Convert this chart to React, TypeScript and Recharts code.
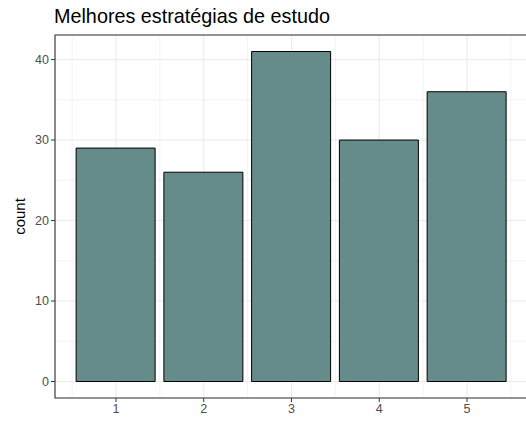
import {
  Bar,
  BarChart,
  CartesianGrid,
  ReferenceArea,
  XAxis,
  YAxis,
} from 'recharts';

const estrategias = [1, 2, 3, 4, 5];
const counts = [29, 26, 41, 30, 36];
const yTicks = [0, 10, 20, 30, 40];
const yMinor = [5, 15, 25, 35];
const xMinor = [0.5, 1.5, 2.5, 3.5, 4.5, 5.5];

const X_DOMAIN: [number, number] = [0.305, 5.695];
const Y_DOMAIN: [number, number] = [-2.05, 43.05];

const chartData = estrategias.map((e, i) => ({ estrategia: e, count: counts[i] }));

const tickStyle = { fontSize: 12.5, fill: '#4D4D4D', fontFamily: 'Liberation Sans, Arial, sans-serif' };

// minor grid lines: use the axis scale when given, else map the domain onto the plot area
const minorH = ({ yAxis, offset }: any) =>
  yMinor.map((v) =>
    yAxis && typeof yAxis.scale === 'function'
      ? yAxis.scale(v)
      : offset.top + ((Y_DOMAIN[1] - v) / (Y_DOMAIN[1] - Y_DOMAIN[0])) * offset.height,
  );
const minorV = ({ xAxis, offset }: any) =>
  xMinor.map((v) =>
    xAxis && typeof xAxis.scale === 'function'
      ? xAxis.scale(v)
      : offset.left + ((v - X_DOMAIN[0]) / (X_DOMAIN[1] - X_DOMAIN[0])) * offset.width,
  );

const App = () => {
  return (
    <div
      style={{
        position: 'absolute',
        left: 0,
        top: 0,
        width: 526,
        height: 421,
        overflow: 'hidden',
        background: '#fff',
        fontFamily: 'Liberation Sans, Arial, sans-serif',
      }}
    >
      <div
        style={{
          position: 'absolute',
          left: 54,
          top: 5,
          fontSize: 19.8,
          color: '#000',
          whiteSpace: 'nowrap',
        }}
      >
        Melhores estratégias de estudo
      </div>
      <BarChart
        width={540}
        height={421}
        data={chartData}
        margin={{ top: 35, right: 12, left: 0, bottom: 0 }}
      >
        <CartesianGrid
          stroke="#EBEBEB"
          strokeWidth={0.6}
          horizontalCoordinatesGenerator={minorH}
          verticalCoordinatesGenerator={minorV}
        />
        <CartesianGrid stroke="#EBEBEB" strokeWidth={1.1} />
        <XAxis
          dataKey="estrategia"
          type="number"
          domain={X_DOMAIN}
          ticks={estrategias}
          allowDataOverflow
          height={23}
          axisLine={false}
          tickLine={{ stroke: '#333333' }}
          tickSize={4}
          tick={tickStyle}
        />
        <YAxis
          type="number"
          domain={Y_DOMAIN}
          ticks={yTicks}
          allowDataOverflow
          width={55}
          axisLine={false}
          tickLine={{ stroke: '#333333' }}
          tickSize={4}
          tick={tickStyle}
          label={{
            value: 'count',
            angle: -90,
            position: 'insideLeft',
            offset: 20,
            style: { fontSize: 15, fill: '#000', textAnchor: 'middle' },
          }}
        />
        <Bar
          dataKey="count"
          fill="#668B8B"
          stroke="#000000"
          strokeWidth={1}
          barSize={79}
          isAnimationActive={false}
        />
        <ReferenceArea
          x1={X_DOMAIN[0]}
          x2={X_DOMAIN[1]}
          y1={Y_DOMAIN[0]}
          y2={Y_DOMAIN[1]}
          fill="none"
          stroke="#333333"
          strokeWidth={1.1}
        />
      </BarChart>
    </div>
  );
};

export default App;
